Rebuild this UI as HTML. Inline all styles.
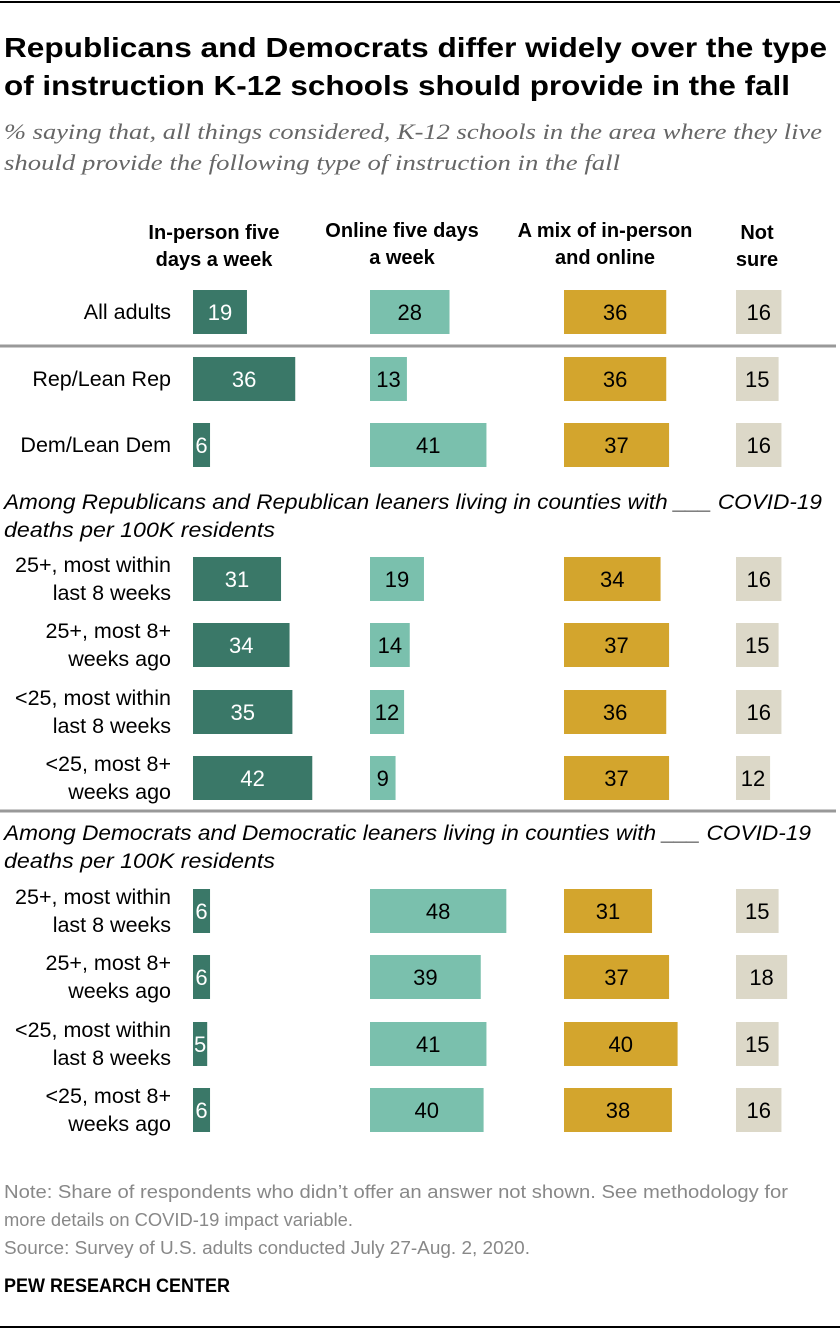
<!DOCTYPE html>
<html><head><meta charset="utf-8"><style>
body{margin:0;background:#fff;}
svg{display:block;font-family:"Liberation Sans",sans-serif;}
</style></head><body>
<svg id="chart" width="840" height="1332">
<line x1="0" y1="2" x2="840" y2="2" stroke="#000" stroke-width="2"/>
<text x="4" y="57" font-size="28" font-weight="bold" fill="#000" textLength="823" lengthAdjust="spacingAndGlyphs">Republicans and Democrats differ widely over the type</text>
<text x="4" y="95" font-size="28" font-weight="bold" fill="#000" textLength="786" lengthAdjust="spacingAndGlyphs">of instruction K-12 schools should provide in the fall</text>
<text x="4" y="139" font-size="22" font-style="italic" fill="#666" font-family="Liberation Serif, serif" textLength="818" lengthAdjust="spacingAndGlyphs">% saying that, all things considered, K-12 schools in the area where they live</text>
<text x="4" y="170" font-size="22" font-style="italic" fill="#666" font-family="Liberation Serif, serif" textLength="616" lengthAdjust="spacingAndGlyphs">should provide the following type of instruction in the fall</text>
<g font-size="20" font-weight="bold" text-anchor="middle" fill="#000">
<text x="214" y="239"><tspan x="214">In-person five</tspan><tspan x="214" dy="27">days a week</tspan></text>
<text x="402" y="237"><tspan x="402">Online five days</tspan><tspan x="402" dy="27">a week</tspan></text>
<text x="605" y="237"><tspan x="605">A mix of in-person</tspan><tspan x="605" dy="27">and online</tspan></text>
<text x="757" y="239"><tspan x="757">Not</tspan><tspan x="757" dy="27">sure</tspan></text>
</g>
<line x1="0" y1="346" x2="836" y2="346" stroke="#999" stroke-width="3"/>
<line x1="0" y1="811" x2="836" y2="811" stroke="#999" stroke-width="3"/>
<g font-size="21" font-style="italic" fill="#000">
<text x="4" y="509" textLength="818" lengthAdjust="spacingAndGlyphs">Among Republicans and Republican leaners living in counties with ___ COVID-19</text>
<text x="4" y="537" textLength="271" lengthAdjust="spacingAndGlyphs">deaths per 100K residents</text>
<text x="4" y="840" textLength="807" lengthAdjust="spacingAndGlyphs">Among Democrats and Democratic leaners living in counties with ___ COVID-19</text>
<text x="4" y="868" textLength="271" lengthAdjust="spacingAndGlyphs">deaths per 100K residents</text>
</g>
<g id="bars"></g>
<g font-size="18" fill="#888">
<text x="4" y="1198" textLength="784" lengthAdjust="spacingAndGlyphs">Note: Share of respondents who didn’t offer an answer not shown. See methodology for</text>
<text x="4" y="1226" textLength="349" lengthAdjust="spacingAndGlyphs">more details on COVID-19 impact variable.</text>
<text x="4" y="1254" textLength="526" lengthAdjust="spacingAndGlyphs">Source: Survey of U.S. adults conducted July 27-Aug. 2, 2020.</text>
</g>
<text x="4" y="1292" font-size="19" font-weight="bold" fill="#000" textLength="226" lengthAdjust="spacingAndGlyphs">PEW RESEARCH CENTER</text>
<line x1="0" y1="1327" x2="840" y2="1327" stroke="#000" stroke-width="2"/>
</svg>
<script>
const rowLabels = [["All adults"],["Rep/Lean Rep"],["Dem/Lean Dem"],
["25+, most within","last 8 weeks"],["25+, most 8+","weeks ago"],["<25, most within","last 8 weeks"],["<25, most 8+","weeks ago"],
["25+, most within","last 8 weeks"],["25+, most 8+","weeks ago"],["<25, most within","last 8 weeks"],["<25, most 8+","weeks ago"]];
const inPerson = [19,36,6,31,34,35,42,6,6,5,6];
const online = [28,13,41,19,14,12,9,48,39,41,40];
const mix = [36,36,37,34,37,36,37,31,37,40,38];
const notSure = [16,15,16,16,15,16,12,15,18,15,16];
const rowY = [312,379,445,579,645,712,778,911,977,1044,1110];
const series = [inPerson, online, mix, notSure];
const seriesNames = ['in-person','online','mix','not-sure'];
const colX = [193,370,564,736];
const colors = ['#3a7868','#7ac0ad','#d3a52d','#dcd8c8'];
const textColors = ['#fff','#000','#000','#000'];
const scale = v => v*2.84;
const NS='http://www.w3.org/2000/svg';
const g=document.getElementById('bars');
rowLabels.forEach((lab,i)=>{
  const cy=rowY[i];
  const t=document.createElementNS(NS,'text');
  
  
  t.setAttribute('x',171);t.setAttribute('text-anchor','end');t.setAttribute('font-size','21.5');
  lab.forEach((l,j)=>{const s=document.createElementNS(NS,'tspan');s.setAttribute('x',171);
    s.setAttribute('y', cy+7+(lab.length===2?(j===0?-14:14):0));s.textContent=l;t.appendChild(s);});
  g.appendChild(t);
  series.forEach((arr,k)=>{
    const v=arr[i];const w=scale(v);
    const r=document.createElementNS(NS,'rect');
    
    
    r.setAttribute('x',colX[k]);r.setAttribute('y',cy-22);r.setAttribute('width',w);r.setAttribute('height',44);
    r.setAttribute('fill',colors[k]);g.appendChild(r);
    const vt=document.createElementNS(NS,'text');
    
    
    vt.setAttribute('x',colX[k]+w/2);vt.setAttribute('y',cy+8);vt.setAttribute('text-anchor','middle');
    vt.setAttribute('font-size','22');vt.setAttribute('fill',textColors[k]);vt.textContent=v;g.appendChild(vt);
  });
});
</script>
</body></html>
